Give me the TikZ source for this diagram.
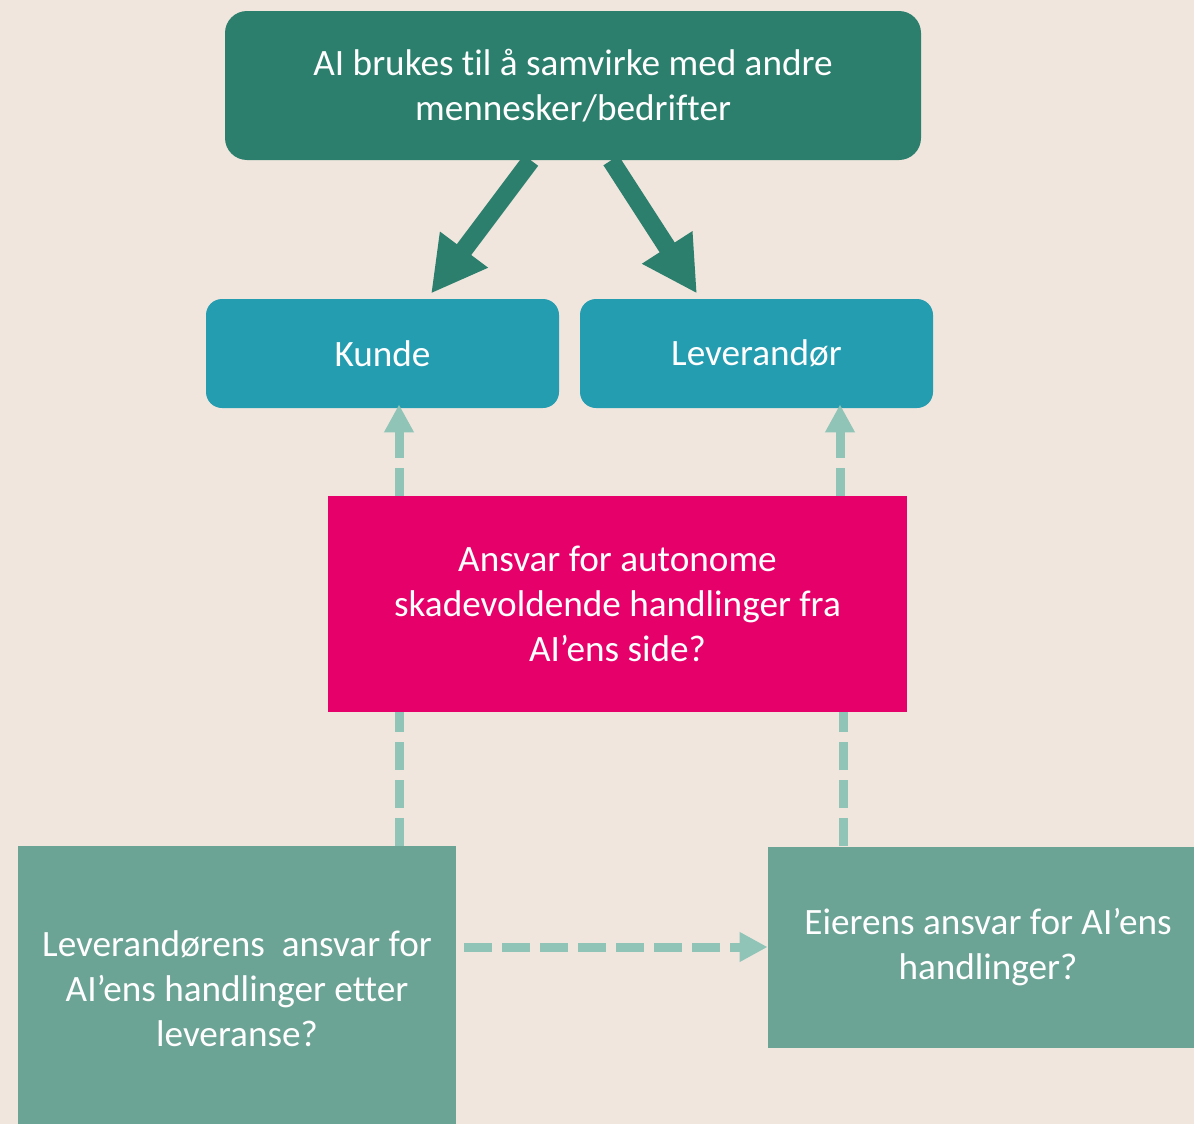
\documentclass[tikz,border=0pt]{standalone}
\usepackage{fontspec}
\setmainfont[Ligatures={NoCommon}]{Carlito}
\usepackage{tikz}
\usetikzlibrary{arrows.meta,shapes}
\usetikzlibrary{positioning}
\definecolor{bgsand}{HTML}{F0E6DE}
\definecolor{topgreen}{HTML}{2C7F6C}
\definecolor{partyblue}{HTML}{259DB1}
\definecolor{issuepink}{HTML}{E6006A}
\definecolor{respgreen}{HTML}{6BA395}
\definecolor{linkgreen}{HTML}{8FC4B7}
\newcommand{\boxfont}{\fontsize{18.6}{22.4}\selectfont}
\tikzstyle{head} = [rectangle, rounded corners=11pt, fill=topgreen, text=white,
    align=center, font=\boxfont, minimum width=348pt, minimum height=74.5pt]
\tikzstyle{party} = [rectangle, rounded corners=8pt, fill=partyblue, text=white,
    align=center, font=\boxfont, minimum width=176.5pt, minimum height=54.5pt]
\tikzstyle{issue} = [rectangle, fill=issuepink, text=white, align=center,
    font=\boxfont, minimum width=289.5pt, minimum height=108pt]
\tikzstyle{resp} = [rectangle, fill=respgreen, text=white, align=center,
    font=\boxfont]
\tikzstyle{bigarrow} = [-{Triangle[length=27.5pt,width=28pt]}, line width=9pt, topgreen]
\tikzstyle{link} = [dash pattern=on 14pt off 5pt, line width=4.5pt, linkgreen]
\tikzstyle{linkarrow} = [link, -{Triangle[length=14pt,width=14pt]}]

\begin{document}
\begin{tikzpicture}
  \useasboundingbox (0,0) rectangle (597pt,-562pt);
  \fill [bgsand] (0,0) rectangle (597pt,-562pt);
  \clip (0,0) rectangle (597pt,-562pt);
  \node [head] (top) at (286.5pt,-42.75pt) {AI brukes til å samvirke med andre\\mennesker/bedrifter};
  \node [party, node distance=134pt, below of=top, xshift=-95.25pt] (kunde) {Kunde};
  \node [party, node distance=187pt, right of=kunde] (lev) {Leverandør};
  \node [issue, node distance=125.25pt, below of=kunde, xshift=117.5pt] (ansvar) {Ansvar for autonome\\skadevoldende handlinger fra\\AI’ens side?};
  \node [resp, minimum width=219pt, minimum height=143pt, node distance=192.5pt,
    below of=ansvar, xshift=-190.25pt] (levansvar) {Leverandørens\ \ ansvar for\\AI’ens handlinger etter\\leveranse?};
  \node [resp, minimum width=220pt, minimum height=100.5pt, node distance=171.5pt,
    below of=ansvar, xshift=185.25pt] (eier) {Eierens ansvar for AI’ens\\handlinger?};
  \draw [bigarrow] ([xshift=-21pt]top.south) -- ([xshift=24.25pt,yshift=2.5pt]kunde.north);
  \draw [bigarrow] ([xshift=19pt]top.south) -- ([xshift=-29.75pt,yshift=2.5pt]lev.north);
  \draw [linkarrow] ([xshift=-109.25pt]ansvar.north) -- ([xshift=8.25pt,yshift=2pt]kunde.south);
  \draw [linkarrow] ([xshift=111.25pt]ansvar.north) -- ([xshift=41.75pt,yshift=2pt]lev.south);
  \draw [link] ([xshift=81pt]levansvar.north) -- ([xshift=-109.25pt]ansvar.south);
  \draw [link] ([xshift=-72.5pt]eier.north) -- ([xshift=112.75pt]ansvar.south);
  \draw [linkarrow] ([xshift=4pt,yshift=21pt]levansvar.east) -- (eier.west);
\end{tikzpicture}
\end{document}
